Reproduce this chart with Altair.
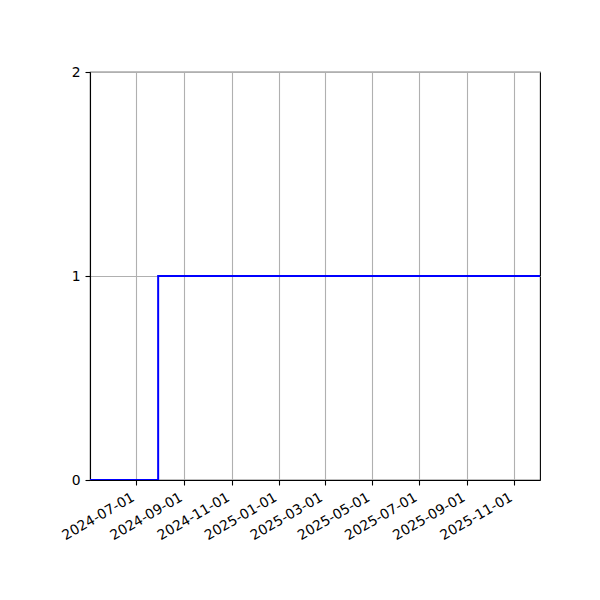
import altair as alt
import pandas as pd

dates = ["2024-05-02", "2024-07-29", "2025-12-04"]
values = [0, 1, 1]
tick_dates = ["2024-07-01", "2024-09-01", "2024-11-01", "2025-01-01", "2025-03-01",
              "2025-05-01", "2025-07-01", "2025-09-01", "2025-11-01"]
y_tick_count = 2
y_domain = [0, 2]
x_domain = ["2024-05-02", "2025-12-04"]

df = pd.DataFrame({"date": dates, "value": values})

tick_vals = [alt.DateTime(year=int(d[:4]), month=int(d[5:7]), date=int(d[8:10])) for d in tick_dates]
dom = [alt.DateTime(year=int(d[:4]), month=int(d[5:7]), date=int(d[8:10])) for d in x_domain]

axis_style = dict(domainColor="black", tickColor="black", tickSize=5, tickWidth=1.1, labelColor="black",
                  labelFont="DejaVu Sans", labelFontSize=13.9, gridColor="#b0b0b0", gridWidth=1.1,
                  domainWidth=1.1, labelOverlap=False, title=None, grid=True)

chart = alt.Chart(df).mark_line(interpolate="step-after", color="#0000ff", strokeWidth=2, clip=True).encode(
    x=alt.X("date:T", scale=alt.Scale(domain=dom, nice=False),
            axis=alt.Axis(values=tick_vals, format="%Y-%m-%d", labelAngle=-30, labelAlign="right",
                          labelBaseline="top", labelPadding=5, labelOffset=-7, **axis_style)),
    y=alt.Y("value:Q", scale=alt.Scale(domain=y_domain, nice=False),
            axis=alt.Axis(tickCount=y_tick_count, format="d", labelPadding=5, **axis_style)),
).properties(
    width=450, height=408,
    background="white",
    autosize=alt.AutoSizeParams(type="none"),
    padding={"left": 82, "top": 64, "right": 52, "bottom": 112},
).configure_view(
    stroke="black", strokeWidth=1.1
)

chart.save("out.html", embed_options={"renderer": "svg", "actions": False})
